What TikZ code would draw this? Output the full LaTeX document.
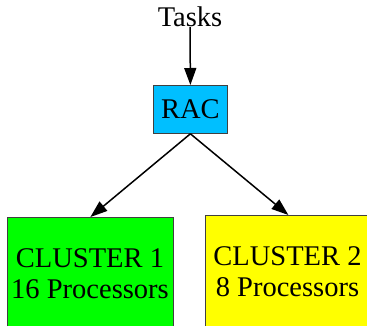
\documentclass[tikz,border=0pt]{standalone}
\usepackage{fontspec}
\setmainfont{Liberation Serif}
\newfontfamily\tnr{Liberation Serif}
\usetikzlibrary{arrows.meta}
\definecolor{racblue}{HTML}{00BFFF}
\definecolor{cgreen}{HTML}{00FF00}
\definecolor{cyellow}{HTML}{FFFF00}
\tikzset{
  lbl/.style={font=\tnr\fontsize{28.5}{31}\selectfont, inner sep=0pt, align=center},
  boxnode/.style={draw=black!75, line width=0.8pt, rectangle, inner sep=0pt, anchor=north west},
  conn/.style={line width=1.5pt, -{Triangle[length=17pt, width=12pt]}}
}
\begin{document}
\begin{tikzpicture}[x=1pt, y=-1pt]
\useasboundingbox (0,0) rectangle (367,325);
\clip (0,0) rectangle (367,325);
\node[lbl] (tasks) at (190,17) {Tasks};
\node[boxnode, fill=racblue, minimum width=74pt, minimum height=48pt] (rac) at (153,85) {};
\node[lbl] (ractext) at (rac.center) {RAC};
\node[boxnode, fill=cgreen, minimum width=166pt, minimum height=115pt] (c1) at (7,217) {};
\node[lbl] (c1text) at (90,274) {CLUSTER 1\\16 Processors};
\node[boxnode, fill=cyellow, minimum width=166pt, minimum height=115pt] (c2) at (205,215) {};
\node[lbl] (c2text) at (287.5,272) {CLUSTER 2\\8 Processors};
\draw[conn] (tasks.south) -- (rac.north);
\draw[conn] (rac.south) -- (c1.north);
\draw[conn] (rac.south) -- (c2.north);
\end{tikzpicture}
\end{document}
